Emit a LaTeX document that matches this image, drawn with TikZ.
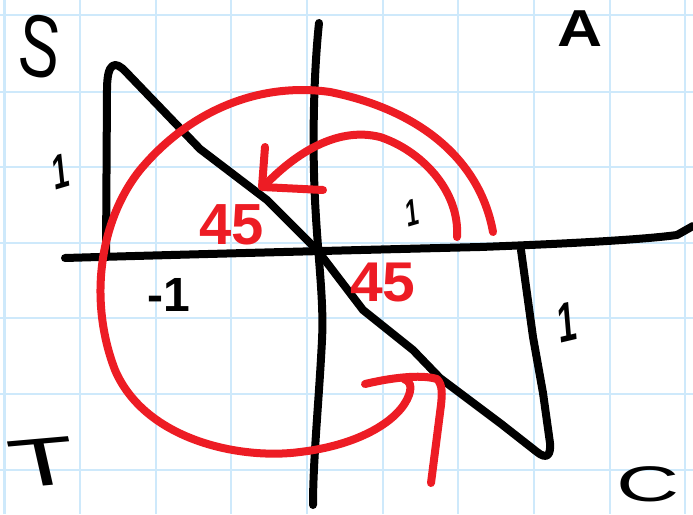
\documentclass[tikz,border=0pt]{standalone}
\usepackage{fontspec}
\setmainfont{Liberation Sans}
\begin{document}
\begin{tikzpicture}[x=1pt,y=-1pt,
  gridline/.style={draw=gridblue,line width=2.2pt},
  blk/.style={draw=black,line width=8pt,line cap=round,line join=round},
  redpen/.style={draw=penred,line width=8pt,line cap=round,line join=round},
  lbl/.style={inner sep=0pt},
  rlbl/.style={inner sep=0pt,text=penred}]
\definecolor{gridblue}{RGB}{206,233,251}
\definecolor{penred}{RGB}{237,28,36}
\useasboundingbox[fill=white] (0,0) rectangle (693,514);
% grid
\foreach \gx in {4.5,80,156,231,307,383,458,534,610,685}
  \draw[gridline] (\gx,0) -- (\gx,514);
\foreach \gy in {15,92,167,243,318,394,470}
  \draw[gridline] (0,\gy) -- (693,\gy);
% axes
\draw[blk] (65,258) .. controls (200,254) and (400,249) .. (480,247)
  .. controls (560,244) and (640,240) .. (677,235) -- (693,226);
\draw[blk] (319,23) .. controls (314,70) and (312,140) .. (315,200)
  .. controls (318,260) and (324,300) .. (322,340)
  .. controls (319,400) and (313,460) .. (313,505);
% left triangle
\draw[blk] (106,257) -- (107,90) .. controls (107,62) and (115,60) .. (126,72)
  -- (200,149) -- (267,200) -- (318,251);
% right triangle
\draw[blk] (318,251) -- (363,310) -- (413,350) -- (440,378) -- (500,423) -- (537,452)
  .. controls (547,460) and (551,455) .. (550,443)
  -- (543,393) -- (533,337) -- (521,250);
% red big arc
\draw[redpen] (493,232) .. controls (480,160) and (420,110) .. (330,92)
  .. controls (260,82) and (190,110) .. (140,170)
  .. controls (100,220) and (88,300) .. (115,370)
  .. controls (145,440) and (240,460) .. (300,452)
  .. controls (360,445) and (400,420) .. (409,395)
  .. controls (412,386) and (410,381) .. (404,379);
\draw[redpen] (365,384) .. controls (390,378) and (420,374) .. (437,379)
  .. controls (443,385) and (442,395) .. (441,405) -- (431,483);
% red inner arrow
\draw[redpen] (457,237) .. controls (460,190) and (420,150) .. (380,137)
  .. controls (340,127) and (300,150) .. (268,182);
\draw[redpen] (265,147) -- (262,187) -- (323,190);
% labels
\node[lbl,font=\fontsize{88}{88}\selectfont,xscale=0.7,rotate=-8] (S) at (40,47) {S};
\node[lbl,font=\bfseries\fontsize{52}{52}\selectfont,xscale=1.2] (A) at (580,29) {A};
\node[lbl,font=\fontsize{68}{68}\selectfont,xscale=1.6,rotate=8] (T) at (43,462) {T};
\node[lbl,font=\fontsize{50}{50}\selectfont,xscale=1.75] (C) at (648,484) {C};
\node[lbl,font=\bfseries\fontsize{49}{49}\selectfont,xscale=0.6,rotate=10] (one1) at (61,172) {1};
\node[lbl,font=\bfseries\fontsize{48}{48}\selectfont] (mone) at (169,295) {-1};
\node[lbl,font=\bfseries\fontsize{38}{38}\selectfont,xscale=0.6,rotate=10] (one2) at (412,213) {1};
\node[lbl,font=\bfseries\fontsize{56}{56}\selectfont,xscale=0.6,rotate=8] (one3) at (567,322) {1};
\node[rlbl,font=\bfseries\fontsize{58}{58}\selectfont] (ang1) at (232,225) {45};
\node[rlbl,font=\bfseries\fontsize{56}{56}\selectfont,xscale=1.05] (ang2) at (383,283) {45};
\end{tikzpicture}
\end{document}
